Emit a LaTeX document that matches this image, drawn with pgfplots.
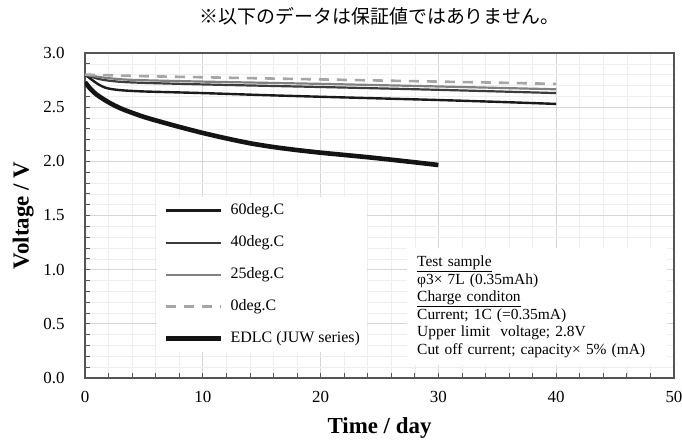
\documentclass[border=0pt]{standalone}
\usepackage{fontspec}
\setmainfont{Liberation Serif}
\newfontfamily\cjk{Noto Sans CJK JP}
\usepackage{pgfplots}
\pgfplotsset{compat=1.18}
\definecolor{c60}{HTML}{1A1A1A}
\definecolor{c40}{HTML}{3C3C3C}
\definecolor{c25}{HTML}{808080}
\definecolor{c0}{HTML}{A6A6A6}
\definecolor{cedlc}{HTML}{141414}
\definecolor{gmaj}{HTML}{D6D6D6}
\definecolor{gmin}{HTML}{EEEEEE}
\definecolor{frame}{HTML}{555555}
\begin{document}
\begin{tikzpicture}
\useasboundingbox (-85bp,-65bp) rectangle (597bp,378bp);
\fill[white] (-85bp,-65bp) rectangle (597bp,378bp);
\begin{axis}[
  at={(0,0)}, anchor=south west,
  scale only axis, width=589bp, height=325bp,
  xmin=0, xmax=50, ymin=0, ymax=3,
  xtick={0,10,...,50}, ytick={0,0.5,...,3},
  minor x tick num=4, minor y tick num=4,
  grid=both,
  major grid style={gmaj, line width=0.8bp},
  minor grid style={gmin, line width=0.6bp},
  tick pos=left, tick align=inside,
  major tick length=5bp, minor tick length=5bp,
  tick style={frame, line width=0.8bp},
  axis line style={frame, line width=1.2bp},
  /pgf/number format/assume math mode=true,
  ticklabel style={font=\fontsize{17}{20}\selectfont},
  yticklabel style={/pgf/number format/.cd, fixed, fixed zerofill, precision=1, /tikz/.cd, xshift=-17bp},
  xticklabel style={yshift=-10bp},
  xlabel={Time / day},
  ylabel={Voltage / V},
  xlabel style={font=\bfseries\fontsize{23}{26}\selectfont, at={(axis description cs:0.5,0)}, anchor=center, yshift=-50bp},
  ylabel style={font=\bfseries\fontsize{23}{26}\selectfont, at={(axis description cs:-0.105,0.5)}, anchor=center},
  title={※以下のデータは保証値ではありません。},
  title style={font=\cjk\fontsize{19}{21}\selectfont, at={(axis description cs:0.5,1)}, anchor=center, yshift=31bp},
  legend cell align=left,
  legend image code/.code={\draw[#1] (0bp,0bp) -- (55bp,0bp);},
  legend style={at={(axis description cs:0.122,0.557)}, anchor=north west,
    draw=none, fill=white, inner xsep=7bp, inner ysep=6bp,
    font=\fontsize{16}{18}\selectfont, row sep=17bp,
    nodes={inner sep=0pt, text height=11bp, text depth=4bp},
    /tikz/every odd column/.append style={column sep=7bp},
    /tikz/every even column/.append style={column sep=14bp}},
]
% 60 deg.C
\addplot[c60, line width=2.4bp, smooth] coordinates {
(0,2.80) (0.5,2.76) (1,2.72) (1.5,2.69) (2,2.672) (3,2.657) (5,2.645) (10,2.630) (15,2.612) (20,2.596) (25,2.581) (30,2.566) (35,2.549) (40,2.530)};
\addlegendentry{60deg.C}
% 40 deg.C
\addplot[c40, line width=2.2bp, smooth] coordinates {
(0,2.80) (1,2.765) (2,2.745) (4,2.728) (10,2.710) (20,2.686) (30,2.660) (40,2.630)};
\addlegendentry{40deg.C}
% 25 deg.C
\addplot[c25, line width=2.2bp, smooth] coordinates {
(0,2.80) (1,2.782) (2,2.768) (4,2.752) (10,2.736) (20,2.715) (30,2.691) (40,2.665)};
\addlegendentry{25deg.C}
% 0 deg.C
\addplot[c0, line width=2.6bp, dash pattern=on 10bp off 8bp] coordinates {
(0,2.80) (2,2.795) (5,2.786) (10,2.776) (15,2.766) (20,2.756) (25,2.746) (30,2.736) (35,2.726) (40,2.715)};
\addlegendentry{0deg.C}
% EDLC
\addplot[cedlc, line width=4.6bp, smooth] coordinates {
(0,2.73) (0.5,2.665) (1,2.615) (2,2.545) (3,2.49) (4,2.448) (5,2.41) (6,2.378) (8,2.318) (10,2.262) (12,2.212) (14,2.167) (16,2.132) (18,2.104) (20,2.080) (22,2.059) (24,2.038) (26,2.015) (28,1.991) (30,1.966)};
\addlegendentry{EDLC (JUW series)}
\node[fill=white, anchor=north west, inner xsep=10bp, inner ysep=8bp,
  text width=240bp, align=left,
  font=\fontsize{15.5}{17.5}\selectfont]
  at (axis description cs:0.5467,0.4)
  {\underline{Test sample}\\
   φ3× 7L (0.35mAh)\\
   \underline{Charge conditon}\\
   Current; 1C (=0.35mA)\\
   Upper limit\ \ voltage;\ 2.8V\\
   Cut off current; capacity× 5\% (mA)};
\end{axis}
\end{tikzpicture}
\end{document}
